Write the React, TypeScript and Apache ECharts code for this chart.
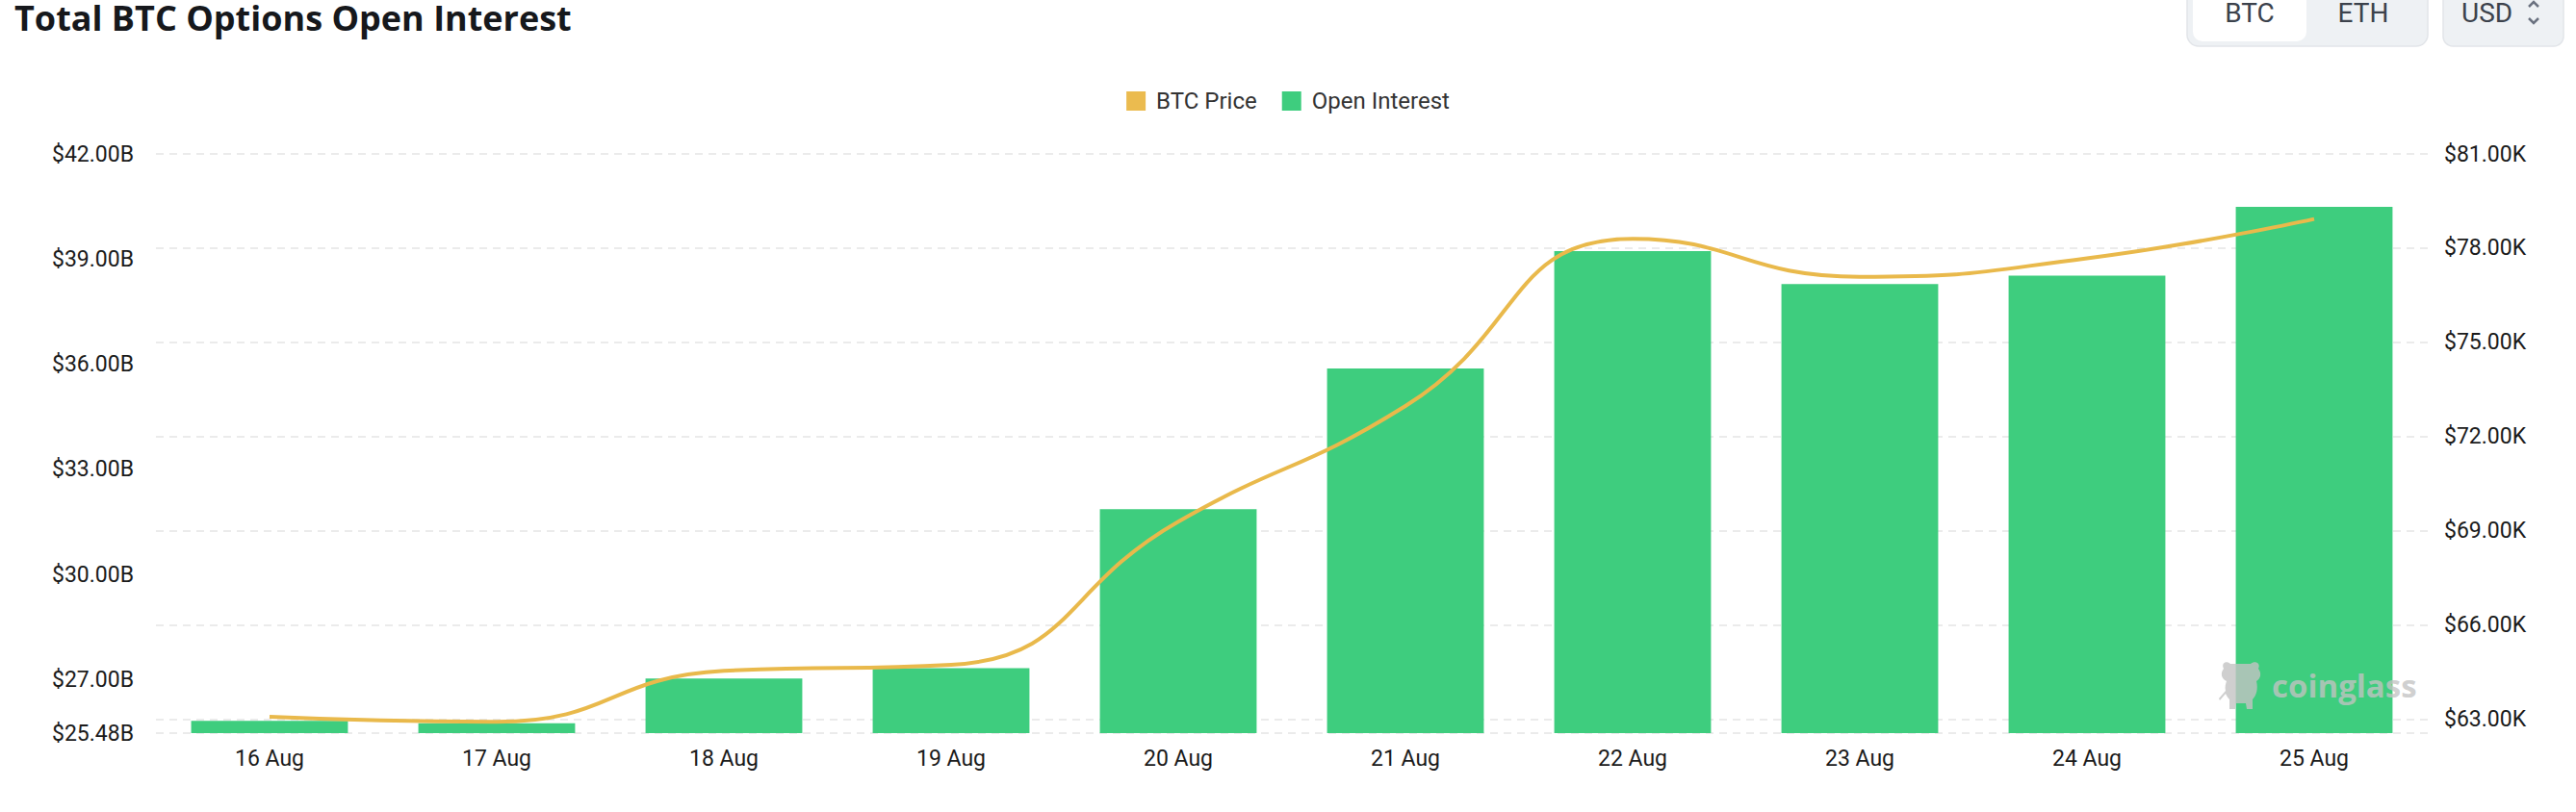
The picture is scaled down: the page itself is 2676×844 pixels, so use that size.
import React, { useEffect, useRef } from "react";
import * as echarts from "echarts";

const categories = ["16 Aug", "17 Aug", "18 Aug", "19 Aug", "20 Aug", "21 Aug", "22 Aug", "23 Aug", "24 Aug", "25 Aug"];
const openInterestB = [25.83, 25.76, 27.04, 27.33, 31.87, 35.88, 39.23, 38.29, 38.53, 40.49];
const btcPriceK = [63.09, 62.93, 64.55, 64.74, 69.3, 72.98, 78.3, 77.09, 77.68, 78.93];
const leftAxisRange = [25.48, 42];
const rightAxisRange = [62.57, 81];
const seriesNames = ["BTC Price", "Open Interest"];
const coinButtons = ["BTC", "ETH"];
const currencyLabel = "USD";
const titleText = "Total BTC Options Open Interest";
const watermarkText = "coinglass";

const logoPath =
  "M6,9 C3,3 9,0 13,4 L34,4 C38,0 45,3 42,9 C46,14 44,20 40,22 C42,30 40,37 36,41 L36,51 L30,51 L29,45 L19,45 L18,51 L12,51 L12,41 C10,39 9,37 8,35 L2,42 L1,40 L8,32 C7,28 8,25 9,22 C4,20 2,14 6,9 Z";

let registered = false;

export default function App() {
  const ref = useRef<HTMLDivElement>(null);

  useEffect(() => {
    if (!ref.current) return;
    if (!registered) {
      echarts.graphic.registerShape("logo", echarts.graphic.extendPath(logoPath, {}));
      registered = true;
    }
    const chart = echarts.init(ref.current, null, { renderer: "svg" });
    const axisFont = { fontFamily: "Roboto", fontSize: 23, color: "#1b1b1b" };
    const gridLine = { color: "#ebebeb", width: 2, type: [8, 6] as any };

    chart.setOption({
      animation: false,
      backgroundColor: "#ffffff",
      textStyle: { fontFamily: "Roboto" },
      legend: {
        data: seriesNames,
        left: "center",
        top: 88,
        icon: "rect",
        itemWidth: 20,
        itemHeight: 20,
        itemGap: 26,
        textStyle: { fontFamily: "Roboto", fontSize: 24, color: "#333333", padding: [0, 0, 0, 6] },
      },
      grid: { left: 162, right: 154, top: 160, bottom: 82, containLabel: false },
      xAxis: {
        type: "category",
        data: categories,
        boundaryGap: true,
        axisLine: { show: false },
        axisTick: { show: false },
        axisLabel: { ...axisFont, margin: 15 },
        splitLine: { show: false },
      },
      yAxis: [
        {
          type: "value",
          position: "left",
          min: leftAxisRange[0],
          max: leftAxisRange[1],
          splitNumber: 6,
          minInterval: 3,
          maxInterval: 3,
          axisLine: { show: false },
          axisTick: { show: false },
          splitLine: { show: false },
          axisLabel: {
            ...axisFont,
            margin: 23,
            showMinLabel: true,
            showMaxLabel: true,
            formatter: (v: number) => `$${v.toFixed(2)}B`,
          },
        },
        {
          type: "value",
          position: "right",
          min: rightAxisRange[0],
          max: rightAxisRange[1],
          splitNumber: 6,
          minInterval: 3,
          maxInterval: 3,
          axisLine: { show: false },
          axisTick: { show: false },
          splitLine: { show: true, lineStyle: gridLine },
          axisLabel: {
            ...axisFont,
            margin: 17,
            showMinLabel: false,
            showMaxLabel: true,
            formatter: (v: number) => `$${v.toFixed(2)}K`,
          },
        },
      ],
      series: [
        {
          name: seriesNames[0],
          type: "line",
          yAxisIndex: 1,
          data: btcPriceK,
          smooth: true,
          showSymbol: false,
          symbol: "none",
          z: 5,
          lineStyle: { color: "#E9B94B", width: 4 },
          itemStyle: { color: "#EBBB4F" },
        },
        {
          name: seriesNames[1],
          type: "bar",
          yAxisIndex: 0,
          data: openInterestB,
          barWidth: "69%",
          z: 2,
          itemStyle: { color: "#3ECD7E" },
        },
      ],
      graphic: [
        {
          type: "text",
          left: 15,
          top: 0,
          z: 10,
          style: {
            text: titleText,
            fontFamily: "Open Sans",
            fontWeight: "bold",
            fontSize: 36,
            fill: "#16181c",
            x: 0,
            y: -6,
          },
        },
        {
          type: "rect",
          shape: { x: 2272, y: -14, width: 250, height: 62, r: 12 },
          style: { fill: "#eef1f4", stroke: "#e2e5e9", lineWidth: 1.5 },
          z: 10,
        },
        {
          type: "rect",
          shape: { x: 2278, y: -14, width: 118, height: 57, r: 10 },
          style: { fill: "#ffffff" },
          z: 11,
        },
        {
          type: "text",
          x: 2337,
          y: 13,
          z: 12,
          style: {
            text: coinButtons[0],
            fontFamily: "Roboto",
            fontSize: 28,
            fill: "#3c424c",
            align: "center",
            verticalAlign: "middle",
          },
        },
        {
          type: "text",
          x: 2455,
          y: 13,
          z: 12,
          style: {
            text: coinButtons[1],
            fontFamily: "Roboto",
            fontSize: 28,
            fill: "#3c424c",
            align: "center",
            verticalAlign: "middle",
          },
        },
        {
          type: "rect",
          shape: { x: 2538, y: -14, width: 125, height: 62, r: 10 },
          style: { fill: "#eef1f4", stroke: "#e2e5e9", lineWidth: 1.5 },
          z: 10,
        },
        {
          type: "text",
          x: 2557,
          y: 13,
          z: 12,
          style: {
            text: currencyLabel,
            fontFamily: "Roboto",
            fontSize: 28,
            fill: "#3c424c",
            align: "left",
            verticalAlign: "middle",
          },
        },
        {
          type: "polyline",
          z: 12,
          shape: { points: [[2627, 7], [2632, 2], [2637, 7]] },
          style: { stroke: "#6b7280", lineWidth: 2.5, fill: null },
        },
        {
          type: "polyline",
          z: 12,
          shape: { points: [[2627, 19], [2632, 24], [2637, 19]] },
          style: { stroke: "#6b7280", lineWidth: 2.5, fill: null },
        },
        {
          type: "logo",
          x: 2304,
          y: 686,
          z: 20,
          style: { fill: "rgba(195,195,195,0.8)" },
        },
        {
          type: "text",
          x: 2360,
          y: 712,
          z: 20,
          style: {
            text: watermarkText,
            fontFamily: "Open Sans",
            fontWeight: "bold",
            fontSize: 33,
            fill: "rgba(195,195,195,0.8)",
            align: "left",
            verticalAlign: "middle",
          },
        },
      ],
    });
    return () => chart.dispose();
  }, []);

  return (
    <div
      ref={ref}
      style={{ position: "fixed", left: 0, top: 0, width: 2676, height: 844, background: "#fff" }}
    />
  );
}
